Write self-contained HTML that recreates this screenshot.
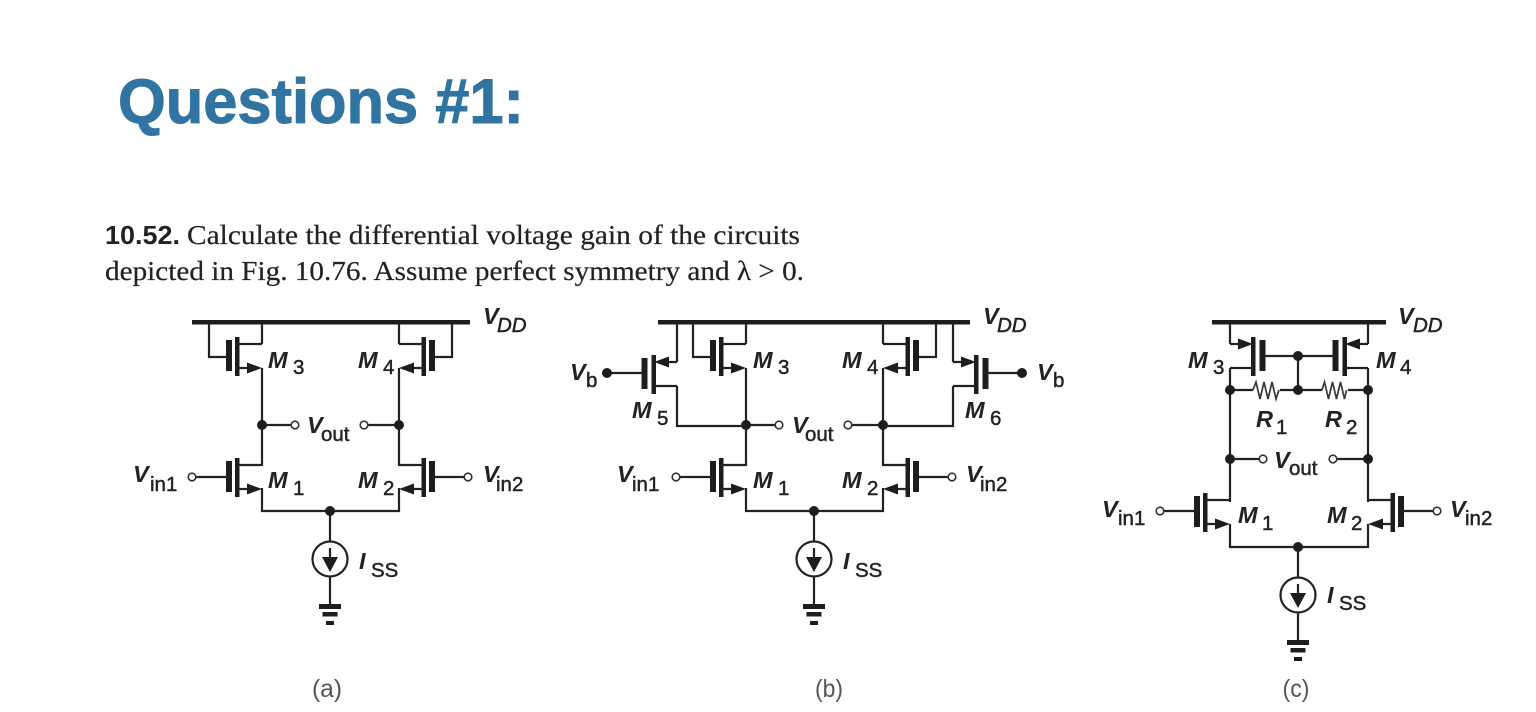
<!DOCTYPE html>
<html><head><meta charset="utf-8"><style>
html,body{margin:0;padding:0;background:#fff;width:1536px;height:712px;overflow:hidden}
svg{display:block;filter:blur(.35px)}
.w{stroke:#222;stroke-width:2.2;fill:none}
.l{font-family:"Liberation Sans",sans-serif;font-style:italic;font-weight:700;font-size:23.5px;fill:#222}
.s{font-family:"Liberation Sans",sans-serif;font-weight:400;font-size:20.5px;fill:#222;stroke:#222;stroke-width:.45}
.si{font-style:italic}
.b{font-family:"Liberation Serif",serif;font-size:27px;fill:#222;stroke:#222;stroke-width:.2}
.c{font-family:"Liberation Sans",sans-serif;font-size:25px;fill:#555}
</style></head><body>
<svg width="1536" height="712" viewBox="0 0 1536 712" xmlns="http://www.w3.org/2000/svg">
<defs>
<g id="n">
<rect x="-27" y="0" width="4.5" height="39" fill="#1d1d1d"/>
<rect x="-36" y="3" width="6" height="31" fill="#1d1d1d"/>
<path class="w" d="M-25 7H0M-25 31H-12"/>
<path d="M0 31L-15 25.500V36.500Z" fill="#1d1d1d"/>
</g>
<g id="p">
<rect x="21" y="0" width="4.500" height="39" fill="#1d1d1d"/>
<rect x="29.500" y="3" width="6" height="31" fill="#1d1d1d"/>
<path class="w" d="M0 31H22M0 7H10"/>
<path d="M23 7L8 1.500V12.500Z" fill="#1d1d1d"/>
</g>
<g id="i">
<path class="w" d="M0 -48V-18M0 18V46"/>
<circle cx="0" cy="0" r="17.500" fill="#fff" stroke="#222" stroke-width="2.200"/>
<path class="w" d="M0 -11V0"/>
<path d="M-8 -2H8L0 13Z" fill="#1d1d1d"/>
<rect x="-11" y="45" width="22" height="5" fill="#1d1d1d"/>
<rect x="-7.500" y="53" width="15" height="4.500" fill="#1d1d1d"/>
<rect x="-4" y="62" width="8" height="4" fill="#1d1d1d"/>
<circle cx="0" cy="-48" r="5" fill="#1d1d1d"/>
</g>
<g id="core">
<path class="w" d="M262 322V344M399 322V344M262 368V466M399 368V466M262 488V511H399V488"/>
<path class="w" d="M209 322V357H229M452 322V357H432"/>
<use href="#n" transform="translate(262,337)"/>
<use href="#n" transform="translate(399,337) scale(-1,1)"/>
<use href="#n" transform="translate(262,458)"/>
<use href="#n" transform="translate(399,458) scale(-1,1)"/>
<path class="w" d="M262 425H291M368 425H399M196 477H229M432 477H464"/>
<circle cx="262" cy="425" r="5" fill="#1d1d1d"/><circle cx="399" cy="425" r="5" fill="#1d1d1d"/>
<circle cx="295" cy="425" r="3.800" fill="#fff" stroke="#333" stroke-width="1.600"/>
<circle cx="364" cy="425" r="3.800" fill="#fff" stroke="#333" stroke-width="1.600"/>
<circle cx="192" cy="477" r="3.800" fill="#fff" stroke="#333" stroke-width="1.600"/>
<circle cx="468" cy="477" r="3.800" fill="#fff" stroke="#333" stroke-width="1.600"/>
<use href="#i" transform="translate(330,559)"/>
</g>
</defs>

<text x="118" y="123" font-family="Liberation Sans, sans-serif" font-weight="700" font-size="63" fill="#3274a1" stroke="#3274a1" stroke-width="1" textLength="406" lengthAdjust="spacingAndGlyphs">Questions #1:</text>

<text x="105" y="244" font-family="Liberation Sans, sans-serif" font-weight="700" font-size="26" fill="#222" textLength="75" lengthAdjust="spacingAndGlyphs">10.52.</text>
<text class="b" x="187" y="244" textLength="613" lengthAdjust="spacingAndGlyphs">Calculate the differential voltage gain of the circuits</text>
<text class="b" x="105" y="280" textLength="699" lengthAdjust="spacingAndGlyphs">depicted in Fig. 10.76. Assume perfect symmetry and λ &gt; 0.</text>

<!-- (a) -->
<rect x="192" y="320" width="278" height="4.500" fill="#1d1d1d"/>
<use href="#core"/>
<text class="l" x="483" y="324">V</text><text class="l s si" x="497" y="332">DD</text>
<text class="l" x="268" y="368">M</text><text class="s" x="293" y="374">3</text>
<text class="l" x="358" y="368">M</text><text class="s" x="383" y="374">4</text>
<text class="l" x="307" y="433">V</text><text class="s" x="321" y="441">out</text>
<text class="l" x="133" y="482">V</text><text class="s" x="150" y="491">in1</text>
<text class="l" x="268" y="488">M</text><text class="s" x="293" y="495">1</text>
<text class="l" x="358" y="488">M</text><text class="s" x="383" y="495">2</text>
<text class="l" x="483" y="482">V</text><text class="s" x="496" y="491">in2</text>
<text class="l" x="359" y="569">I</text><text class="s" x="371" y="577">SS</text>
<text class="c" x="327" y="697" text-anchor="middle" textLength="30" lengthAdjust="spacingAndGlyphs">(a)</text>

<!-- (b) -->
<rect x="658" y="320" width="312" height="4.500" fill="#1d1d1d"/>
<use href="#core" transform="translate(484,0)"/>
<use href="#p" transform="translate(677,355) scale(-1,1)"/>
<use href="#p" transform="translate(953,355)"/>
<path class="w" d="M677 322V362M953 322V362M677 386V426H745M953 386V426H883M611 373H643M985 373H1018"/>
<circle cx="607" cy="373" r="5" fill="#1d1d1d"/><circle cx="1022" cy="373" r="5" fill="#1d1d1d"/>
<text class="l" x="983" y="324">V</text><text class="l s si" x="997" y="332">DD</text>
<text class="l" x="753" y="368">M</text><text class="s" x="778" y="374">3</text>
<text class="l" x="842" y="368">M</text><text class="s" x="867" y="374">4</text>
<text class="l" x="570" y="380">V</text><text class="s" x="586" y="387">b</text>
<text class="l" x="1037" y="380">V</text><text class="s" x="1053" y="387">b</text>
<text class="l" x="632" y="418">M</text><text class="s" x="657" y="425">5</text>
<text class="l" x="965" y="418">M</text><text class="s" x="990" y="425">6</text>
<text class="l" x="792" y="433">V</text><text class="s" x="805" y="441">out</text>
<text class="l" x="617" y="482">V</text><text class="s" x="632" y="491">in1</text>
<text class="l" x="753" y="488">M</text><text class="s" x="778" y="495">1</text>
<text class="l" x="842" y="488">M</text><text class="s" x="867" y="495">2</text>
<text class="l" x="966" y="482">V</text><text class="s" x="980" y="491">in2</text>
<text class="l" x="843" y="569">I</text><text class="s" x="855" y="577">SS</text>
<text class="c" x="829" y="697" text-anchor="middle" textLength="28" lengthAdjust="spacingAndGlyphs">(b)</text>

<!-- (c) -->
<rect x="1212" y="320" width="174" height="4.500" fill="#1d1d1d"/>
<use href="#p" transform="translate(1230,337)"/>
<use href="#p" transform="translate(1368,337) scale(-1,1)"/>
<use href="#n" transform="translate(1230,493)"/>
<use href="#n" transform="translate(1368,493) scale(-1,1)"/>
<path class="w" d="M1230 322V344M1368 322V344M1230 368V502M1368 368V502M1230 524V547H1368V524M1264 356H1334M1298 356V390"/>
<path class="w" d="M1230 390H1253M1280 390H1322M1348 390H1368M1230 459H1259M1337 459H1368M1164 511H1198M1400 511H1433"/>
<path d="M1253 390l3 -8l4 17l4 -17l4 17l4 -17l4 17l3 -9M1322 390l2.500 -8l4 17l4 -17l4 17l4 -17l4 17l2 -9" fill="none" stroke="#3a3a3a" stroke-width="1.700"/>
<circle cx="1298" cy="356" r="5" fill="#1d1d1d"/><circle cx="1298" cy="390" r="5" fill="#1d1d1d"/>
<circle cx="1230" cy="390" r="5" fill="#1d1d1d"/><circle cx="1368" cy="390" r="5" fill="#1d1d1d"/>
<circle cx="1230" cy="459" r="5" fill="#1d1d1d"/><circle cx="1368" cy="459" r="5" fill="#1d1d1d"/>
<circle cx="1263" cy="459" r="3.800" fill="#fff" stroke="#333" stroke-width="1.600"/>
<circle cx="1333" cy="459" r="3.800" fill="#fff" stroke="#333" stroke-width="1.600"/>
<circle cx="1160" cy="511" r="3.800" fill="#fff" stroke="#333" stroke-width="1.600"/>
<circle cx="1437" cy="511" r="3.800" fill="#fff" stroke="#333" stroke-width="1.600"/>
<use href="#i" transform="translate(1298,595)"/>
<text class="l" x="1398" y="324">V</text><text class="l s si" x="1413" y="332">DD</text>
<text class="l" x="1188" y="368">M</text><text class="s" x="1213" y="374">3</text>
<text class="l" x="1376" y="368">M</text><text class="s" x="1400" y="374">4</text>
<text class="l" x="1256" y="427">R</text><text class="s" x="1276" y="434">1</text>
<text class="l" x="1325" y="427">R</text><text class="s" x="1346" y="434">2</text>
<text class="l" x="1274" y="468">V</text><text class="s" x="1289" y="475">out</text>
<text class="l" x="1102" y="517">V</text><text class="s" x="1118" y="525">in1</text>
<text class="l" x="1238" y="523">M</text><text class="s" x="1262" y="530">1</text>
<text class="l" x="1327" y="523">M</text><text class="s" x="1351" y="530">2</text>
<text class="l" x="1450" y="517">V</text><text class="s" x="1465" y="525">in2</text>
<text class="l" x="1327" y="603">I</text><text class="s" x="1339" y="610">SS</text>
<text class="c" x="1296" y="697" text-anchor="middle" textLength="27" lengthAdjust="spacingAndGlyphs">(c)</text>
</svg>
</body></html>
